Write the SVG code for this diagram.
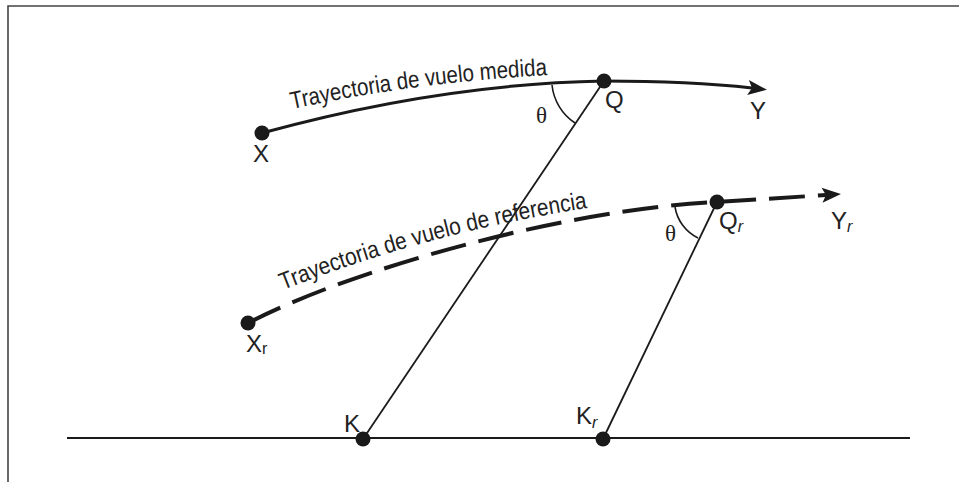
<svg xmlns="http://www.w3.org/2000/svg" width="959" height="482" viewBox="0 0 959 482">
<style>
.lbl{font-family:"Liberation Sans Narrow","Liberation Sans",Arial,sans-serif;font-size:24px;fill:#222}
.sub{font-size:16px}
.it{font-style:italic}
.cap{font-family:"Liberation Sans Narrow","Liberation Sans",Arial,sans-serif;font-size:24px;fill:#222}
.th{font-family:"Liberation Serif","Times New Roman",serif;font-size:23px;fill:#222}
.dot{fill:#1a1a1a}
.thin{fill:none;stroke:#1a1a1a;stroke-width:1.8}
.arc{fill:none;stroke:#1a1a1a;stroke-width:1.6}
</style>
<defs>
<marker id="ah" markerUnits="userSpaceOnUse" markerWidth="24" markerHeight="20" viewBox="-22 -10 24 20" refX="-15" refY="0" orient="auto">
<path d="M0,0 L-19,-7.5 L-15,0 L-19,7.5 Z" fill="#1a1a1a"/>
</marker>
<path id="tp1" d="M292,109 Q415,82 551,75"/>
<path id="tp2" d="M283,290 Q430,232 588,208"/>
</defs>
<rect width="959" height="482" fill="#fff"/>
<g id="frame" fill="none" stroke="#444" stroke-width="1.6">
<path d="M8,482 L8,6 L959,6"/>
</g>
<g id="connectors">
<path id="ground" d="M67,438 L910,438" fill="none" stroke="#1a1a1a" stroke-width="2"/>
<path id="measured" d="M262,133 Q440,84 604,81 Q690,81 752,88" fill="none" stroke="#1a1a1a" stroke-width="3" marker-end="url(#ah)"/>
<path id="reference" d="M248,323 C350,270 560,210 717,202 Q780,198 826,195" fill="none" stroke="#1a1a1a" stroke-width="4" stroke-dasharray="36 13" marker-end="url(#ah)"/>
<path id="QK" class="thin" d="M604,81 L363,439"/>
<path id="QrKr" class="thin" d="M717,202 L603,439"/>
<path id="arcQ" class="arc" d="M552,85 A52,52 0 0 0 575,123"/>
<path id="arcQr" class="arc" d="M675,207 A42,42 0 0 0 698,238"/>
</g>
<g id="label-measured">
<text class="cap"><textPath href="#tp1" textLength="258" lengthAdjust="spacingAndGlyphs">Trayectoria de vuelo medida</textPath></text>
</g>
<g id="label-reference">
<text class="cap"><textPath href="#tp2" textLength="316" lengthAdjust="spacingAndGlyphs">Trayectoria de vuelo de referencia</textPath></text>
</g>
<g id="node-X"><circle class="dot" cx="262" cy="133" r="7.5"/><text class="lbl" x="253" y="162">X</text></g>
<g id="node-Q"><circle class="dot" cx="604" cy="81" r="7.5"/><text class="lbl" x="605" y="108">Q</text></g>
<g id="node-Y"><text class="lbl" x="750" y="119">Y</text></g>
<g id="node-Xr"><circle class="dot" cx="248" cy="323" r="7.5"/><text class="lbl" x="246" y="352">X<tspan class="sub" dy="2">r</tspan></text></g>
<g id="node-Qr"><circle class="dot" cx="717" cy="202" r="7.5"/><text class="lbl" x="719" y="229">Q<tspan class="sub it" dy="3">r</tspan></text></g>
<g id="node-Yr"><text class="lbl" x="831" y="229">Y<tspan class="sub it" dy="3">r</tspan></text></g>
<g id="node-K"><circle class="dot" cx="363" cy="439" r="7.5"/><text class="lbl" x="344" y="432">K</text></g>
<g id="node-Kr"><circle class="dot" cx="603" cy="439" r="7.5"/><text class="lbl" x="576" y="424">K<tspan class="sub it" dy="4">r</tspan></text></g>
<g id="theta-Q"><text class="th" x="536" y="123">θ</text></g>
<g id="theta-Qr"><text class="th" x="665" y="241">θ</text></g>
</svg>
